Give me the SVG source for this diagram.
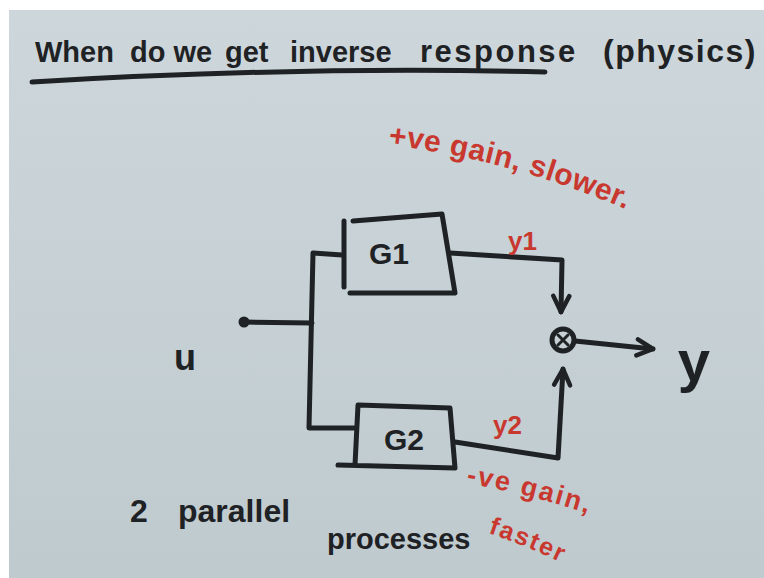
<svg xmlns="http://www.w3.org/2000/svg" width="764" height="578" viewBox="0 0 764 578">
<style>
.ink{fill:none;stroke:#1f2225;stroke-width:5;stroke-linecap:round;stroke-linejoin:round}
.thin{fill:none;stroke:#1f2225;stroke-width:3;stroke-linecap:round}
.hand{font-family:"Liberation Sans",Arial,sans-serif;font-weight:bold;fill:#1f2225}
.red{font-family:"Liberation Sans",Arial,sans-serif;font-weight:bold;fill:#c8382f}
</style>
<defs>
<linearGradient id="bg" x1="0" y1="0" x2="0" y2="1">
<stop offset="0" stop-color="#cdd7db"/>
<stop offset="1" stop-color="#bfcacf"/>
</linearGradient>
<marker id="arrow" viewBox="0 0 22 22" refX="19" refY="11" markerWidth="22" markerHeight="22" markerUnits="userSpaceOnUse" orient="auto">
<path d="M3,3 L19,11 L3,19" fill="none" stroke="#1f2225" stroke-width="4.5" stroke-linecap="round" stroke-linejoin="round"/>
</marker>
<path id="p1" d="M388,145 Q520,160 650,220"/>
<path id="p2" d="M466,483 Q540,496 620,524"/>
<path id="p3" d="M488,533 Q534,548 584,574"/>
</defs>
<rect x="0" y="0" width="764" height="578" fill="#ffffff"/>
<rect x="9" y="10" width="755" height="568" fill="url(#bg)"/>

<g id="title">
<text class="hand" y="62" font-size="29"><tspan x="35">When</tspan><tspan x="130">do we</tspan><tspan x="225">get</tspan><tspan x="290">inverse</tspan><tspan x="420" font-size="31" letter-spacing="2.5">response</tspan><tspan x="603" font-size="32" letter-spacing="1.5">(physics)</tspan></text>
<path class="ink" d="M32,82 Q300,66 545,72"/>
</g>

<g id="connectors">
<path class="ink" d="M244,322 L312,323"/>
<path class="ink" d="M342,255 L313,253 L309,428 L355,428"/>
<path class="ink" d="M450,253 L562,260 L561,312" marker-end="url(#arrow)"/>
<path class="ink" d="M455,442 L558,458 L563,369" marker-end="url(#arrow)"/>
<path class="ink" d="M575,341 L653,349" marker-end="url(#arrow)"/>
</g>

<g id="input-u">
<circle cx="244" cy="322" r="5.5" fill="#1f2225"/>
<text class="hand" x="185" y="370" font-size="36" text-anchor="middle">u</text>
</g>

<g id="G1">
<path class="ink" d="M344,221 L344,287"/>
<path class="ink" d="M353,221 L442,214 L455,293 L350,293"/>
<text class="hand" x="389" y="264" font-size="30" text-anchor="middle">G1</text>
</g>

<g id="G2">
<path class="ink" d="M355,465 L358,405 L450,408 L455,468 L338,465"/>
<text class="hand" x="404" y="450" font-size="30" text-anchor="middle">G2</text>
</g>

<g id="sum">
<circle class="ink" cx="563" cy="340" r="11"/>
<path class="thin" d="M558,335 L568,345 M568,335 L558,345"/>
</g>

<g id="output-y">
<text class="hand" x="694" y="381" font-size="58" text-anchor="middle">y</text>
</g>

<g id="labels">
<text class="red" x="508" y="250" font-size="26">y1</text>
<text class="red" x="493" y="434" font-size="26">y2</text>
<text class="red" font-size="30" letter-spacing="0.5"><textPath href="#p1">+ve gain, slower.</textPath></text>
<text class="red" font-size="27" letter-spacing="2"><textPath href="#p2">-ve gain,</textPath></text>
<text class="red" font-size="25" letter-spacing="2"><textPath href="#p3">faster</textPath></text>
<text class="hand" font-size="32"><tspan x="130" y="522">2</tspan><tspan x="178" y="522">parallel</tspan><tspan x="327" y="549" font-size="29">processes</tspan></text>
</g>
</svg>
